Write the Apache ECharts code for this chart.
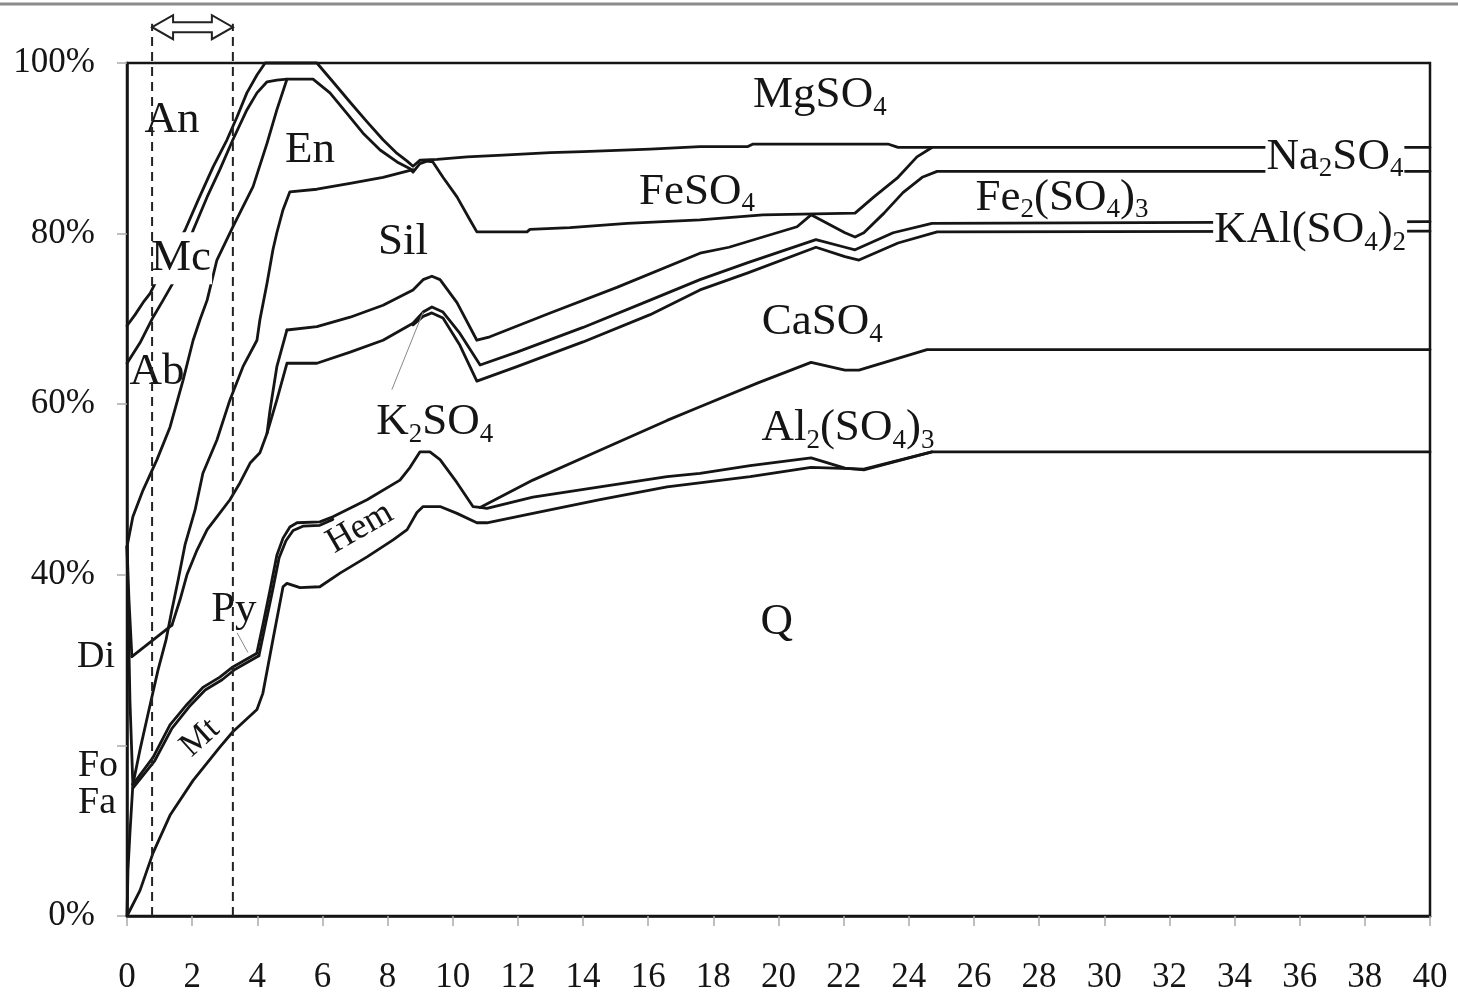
<!DOCTYPE html>
<html><head><meta charset="utf-8">
<script src="https://cdn.jsdelivr.net/npm/echarts@6/dist/echarts.min.js"></script>
<style>html,body{margin:0;padding:0;background:#fff}#c{width:1458px;height:998px}</style>
</head><body><div id="c"></div>
<script>
// ---------- tick labels ----------
const xTickValues = [0,2,4,6,8,10,12,14,16,18,20,22,24,26,28,30,32,34,36,38,40];
const yTickValues = [0,20,40,60,80,100];
const yTickLabels = ['0%','','40%','60%','80%','100%'];

// ---------- boundary curves (x, cumulative %) ----------
const lineAnOuter = [[0,69.2],[0.25,70.5],[0.49,71.9],[0.71,73.0],[0.92,74.6],[1.32,77.5],[1.78,80.4],[2.18,83.9],[2.64,87.8],[3.07,91.0],[3.38,93.7],[3.68,96.5],[3.99,98.6],[4.24,100],[5.83,100],[6.32,97.8],[6.85,95.4],[7.37,93.1],[7.86,91.0],[8.29,89.4],[8.60,88.5],[8.78,87.9],[8.99,88.6],[9.52,88.7],[10.44,89.0],[11.54,89.2],[12.99,89.5],[14.00,89.6],[16.06,89.9],[17.59,90.2],[19.06,90.2],[19.22,90.5],[23.36,90.5],[23.67,90.1],[40,90.1]];
const lineAnInner = [[0,64.8],[0.40,67.2],[0.80,70.2],[1.11,72.2],[1.47,74.6],[1.75,77.5],[2.03,80.4],[2.46,84.3],[2.85,87.5],[3.25,91.0],[3.68,94.5],[3.99,96.5],[4.30,97.8],[4.60,98.0],[4.91,98.1],[5.71,98.1],[6.23,96.5],[6.75,94.1],[7.24,91.8],[7.77,89.8],[8.29,88.4],[8.69,87.6],[8.78,87.2],[8.99,88.2],[9.21,88.5],[9.39,88.4],[9.70,86.6],[10.13,84.3],[10.53,81.6],[10.74,80.2],[12.28,80.2],[12.37,80.5],[13.60,80.7],[15.35,81.2],[17.59,81.6],[19.52,82.2],[22.35,82.4],[22.93,84.3],[23.67,86.6],[24.25,89.0],[24.71,90.1]];
const lineEnLeft = [[0,43.3],[0.18,46.8],[0.49,49.9],[0.92,53.5],[1.32,57.3],[1.72,62.8],[2.03,67.5],[2.24,69.9],[2.46,72.2],[2.76,76.9],[3.25,80.8],[3.87,85.5],[4.30,90.6],[4.60,94.5],[4.91,98.1]];
const lineSilTop = [[8.78,87.5],[7.86,86.6],[6.85,85.9],[5.83,85.2],[5.00,84.9],[4.79,82.8],[4.60,80.1],[4.48,78.1],[4.30,74.2],[4.08,69.9],[3.99,67.5],[3.56,64.4],[3.16,60.5],[2.76,55.8],[2.33,51.9],[2.09,47.6],[1.78,43.5],[1.57,39.4],[1.38,35.9],[1.20,32.4],[0.95,28.8],[0.64,23.6],[0.40,19.5],[0.18,15.4]];
const lineSilFoot = [[4.91,68.7],[4.60,64.4],[4.39,59.3],[4.30,56.6],[4.08,54.3],[3.78,53.1],[3.47,50.8],[3.16,48.8],[2.76,46.8],[2.46,45.3],[2.15,42.9],[1.84,40.0],[1.63,37.1],[1.38,34.1]];
const lineDiTop = [[0.15,30.4],[1.38,34.1]];
const lineDiLeft = [[0,43.3],[0.06,37.1],[0.15,30.4]];
const lineFoRight = [[0,43.3],[0.03,37.0],[0.09,25.3],[0.18,15.4]];
const lineFaRight = [[0.18,15.4],[0.09,9.7],[0.03,5.4],[0,0]];
const lineMtTop = [[0.18,15.4],[0.80,18.6],[1.32,22.4],[1.84,24.8],[2.33,26.8],[2.85,28.0],[3.25,29.2],[3.99,30.8]];
const lineMtTop2 = [[0.18,15.0],[0.85,18.2],[1.38,22.0],[1.90,24.5],[2.40,26.5],[2.92,27.7],[3.31,28.9],[4.05,30.5]];
const lineHemTop = [[3.99,30.9],[4.17,34.1],[4.39,38.2],[4.60,42.3],[4.79,44.3],[5.00,45.6],[5.22,46.1],[5.92,46.2],[6.32,46.8],[7.37,48.8],[8.38,51.1],[8.69,52.6],[8.99,54.4],[9.30,54.4],[9.61,53.5],[10.13,50.8],[10.62,48.0],[10.84,47.9]];
const lineHemTop2 = [[4.05,30.5],[4.24,34.0],[4.46,38.0],[4.67,42.0],[4.88,44.0],[5.10,45.2],[5.40,45.7],[5.92,45.8],[6.32,46.5]];
const lineCaLow = [[10.84,47.9],[12.46,51.1],[14.52,54.6],[16.58,58.1],[17.59,59.7],[19.37,62.5],[21.00,64.9],[22.04,64.0],[22.47,64.0],[24.56,66.4],[40,66.4]];
const lineAlUp = [[10.84,47.9],[11.05,47.8],[12.46,49.1],[14.52,50.3],[16.58,51.5],[17.59,51.9],[19.13,52.8],[21.00,53.7],[22.04,52.5],[22.62,52.3],[24.71,54.4],[40,54.4]];
const lineQTop = [[0,0],[0.40,3.0],[0.80,7.4],[1.32,11.8],[2.03,15.9],[2.85,19.8],[3.25,21.6],[3.99,24.2],[4.17,26.1],[4.48,32.4],[4.79,38.6],[4.91,39.0],[5.31,38.5],[5.92,38.6],[6.54,40.2],[7.37,42.1],[8.17,44.1],[8.60,45.3],[8.90,47.3],[9.09,48.0],[9.61,48.0],[10.13,47.2],[10.74,46.1],[11.05,46.1],[12.46,47.2],[14.52,48.8],[16.58,50.3],[19.13,51.5],[21.00,52.6],[22.62,52.4],[24.71,54.4]];
const lineT1 = [[4.91,68.7],[5.83,69.1],[6.85,70.2],[7.86,71.6],[8.78,73.4],[9.09,74.6],[9.36,75.0],[9.61,74.6],[10.13,71.9],[10.74,67.5],[11.14,67.9],[12.99,70.7],[15.04,73.7],[17.59,77.7],[18.48,78.4],[19.52,79.6],[20.57,80.8],[21.00,82.2],[22.04,80.1],[22.35,79.6],[22.62,80.1],[23.24,82.4],[23.82,84.8],[24.41,86.6],[24.87,87.3],[40,87.3]];
const lineT2 = [[4.30,56.6],[4.60,60.5],[4.91,64.8],[5.83,64.8],[6.85,66.1],[7.86,67.5],[8.78,69.5],[9.09,70.8],[9.36,71.4],[9.70,70.8],[10.22,68.3],[10.84,64.6],[11.97,66.1],[14.00,69.0],[16.06,72.2],[17.59,74.6],[19.06,76.6],[21.15,79.3],[22.04,78.4],[22.35,78.1],[23.52,80.1],[24.71,81.2],[40,81.4]];
const lineT3 = [[8.78,69.3],[9.09,70.3],[9.36,70.7],[9.70,70.1],[10.22,66.9],[10.74,62.7],[11.97,64.4],[14.00,67.3],[16.06,70.5],[17.59,73.4],[19.06,75.4],[21.15,78.4],[22.04,77.3],[22.47,76.9],[23.67,78.9],[24.87,80.2],[40,80.3]];
const leaderK = [[9.09,70.8],[8.13,61.7]];
const leaderPy = [[3.38,33.2],[3.71,30.9]];

// ---------- window markers ----------
const windowX = [0.77, 3.25];
const windowTop = 104.6;
const arrowY = 104.2;

// ---------- region labels ----------
const labelTexts = ['An','Mc','Ab','Di','Fo','Fa','En','Sil','Py','Mt','Hem','K{s|2}SO{s|4}','MgSO{s|4}','FeSO{s|4}','Fe{s|2}(SO{s|4}){s|3}','Na{s|2}SO{s|4}','KAl(SO{s|4}){s|2}','CaSO{s|4}','Al{s|2}(SO{s|4}){s|3}','Q'];
const labelAnchors = [[1.38,93.3],[1.66,77.1],[0.92,63.7],[-0.95,30.4],[-0.89,17.6],[-0.92,13.2],[5.62,89.8],[8.47,79.0],[3.28,35.9],[2.24,20.9],[7.15,45.5],[9.45,57.9],[21.27,96.2],[17.50,84.9],[28.70,84.2],[37.08,89.0],[36.32,80.4],[21.34,69.6],[22.13,57.2],[19.95,34.5]];

const FONT = 'Liberation Serif, Times New Roman, serif';
const INK = '#151515';
const labelStyle = {
  'Di': {fontSize: 38}, 'Fo': {fontSize: 38}, 'Fa': {fontSize: 38},
  'Py': {fontSize: 43},
  'Mt': {fontSize: 34, rotate: 42},
  'Hem': {fontSize: 36, rotate: 30},
  'Mc': {backgroundColor: '#fff'},
  'Na{s|2}SO{s|4}': {backgroundColor: '#fff'},
  'KAl(SO{s|4}){s|2}': {backgroundColor: '#fff'}
};

const boundaryLines = [lineAnOuter, lineAnInner, lineEnLeft, lineSilTop, lineSilFoot, lineDiTop, lineDiLeft, lineFoRight, lineFaRight, lineMtTop, lineMtTop2, lineHemTop, lineHemTop2, lineCaLow, lineAlUp, lineQTop, lineT1, lineT2, lineT3];

const series = [];
boundaryLines.forEach(d => series.push({
  type: 'line', data: d, symbol: 'none', showSymbol: false, clip: false, silent: true, z: 3,
  lineStyle: {color: INK, width: 2.8, join: 'round', cap: 'round'}
}));
[leaderK, leaderPy].forEach(d => series.push({
  type: 'line', data: d, symbol: 'none', clip: false, silent: true, z: 3,
  lineStyle: {color: '#888', width: 1}
}));
windowX.forEach(x => series.push({
  type: 'line', data: [[x, 0], [x, windowTop]], symbol: 'none', clip: false, silent: true, z: 8,
  lineStyle: {color: '#222', width: 2, type: [9, 6]}
}));
series.push({
  type: 'custom', clip: false, silent: true, z: 8,
  data: [[windowX[0], arrowY]],
  renderItem: function (params, api) {
    const a = api.coord([windowX[0], arrowY]);
    const b = api.coord([windowX[1], arrowY]);
    const hl = 21, hh = 12, sh = 5;
    const pts = [[a[0], a[1]], [a[0] + hl, a[1] - hh], [a[0] + hl, a[1] - sh], [b[0] - hl, b[1] - sh], [b[0] - hl, b[1] - hh], [b[0], b[1]],
      [b[0] - hl, b[1] + hh], [b[0] - hl, b[1] + sh], [a[0] + hl, a[1] + sh], [a[0] + hl, a[1] + hh]];
    return {type: 'polygon', shape: {points: pts}, style: {fill: '#fff', stroke: '#222', lineWidth: 2}};
  }
});
series.push({
  type: 'scatter', symbolSize: 0, clip: false, silent: true, z: 5,
  itemStyle: {opacity: 1},
  emphasis: {disabled: true},
  data: labelTexts.map((t, i) => {
    const st = labelStyle[t] || {};
    const fs = st.fontSize || 45;
    return {
      value: labelAnchors[i],
      itemStyle: {opacity: 1},
      label: {
        show: true, position: 'inside', formatter: t, color: INK, opacity: 1,
        textBorderWidth: 0, textBorderColor: 'transparent', textShadowBlur: 0,
        fontFamily: FONT, fontSize: fs, lineHeight: Math.round(fs * 1.16),
        rotate: st.rotate || 0,
        backgroundColor: st.backgroundColor || 'transparent',
        padding: st.backgroundColor ? [0, 1] : 0,
        rich: {s: {fontFamily: FONT, fontSize: Math.round(fs * 0.6), lineHeight: Math.round(fs * 0.6), verticalAlign: 'bottom', color: INK, textBorderWidth: 0}}
      }
    };
  })
});

const chart = echarts.init(document.getElementById('c'), null, {renderer: 'canvas'});
chart.setOption({
  animation: false,
  backgroundColor: '#fff',
  grid: {left: 127, right: 28, top: 63, bottom: 82, show: true, borderColor: INK, borderWidth: 2.5, backgroundColor: 'transparent'},
  graphic: [{type: 'line', shape: {x1: 0, y1: 4, x2: 1458, y2: 4}, style: {stroke: '#8c8c8c', lineWidth: 3}, z: 1}],
  xAxis: {
    type: 'value', min: 0, max: 40, interval: 2,
    axisLine: {show: true, lineStyle: {color: INK, width: 2.5}},
    axisTick: {show: true, length: 10, lineStyle: {color: '#aaa', width: 1.5}},
    splitLine: {show: false},
    axisLabel: {color: INK, fontFamily: FONT, fontSize: 35, margin: 44,
      formatter: v => xTickValues.indexOf(v) >= 0 ? String(v) : ''}
  },
  yAxis: {
    type: 'value', min: 0, max: 100, interval: 20,
    axisLine: {show: true, lineStyle: {color: INK, width: 2.5}},
    axisTick: {show: true, length: 10, lineStyle: {color: '#aaa', width: 1.5}},
    splitLine: {show: false},
    axisLabel: {color: INK, fontFamily: FONT, fontSize: 35, margin: 32,
      formatter: v => { const i = yTickValues.indexOf(v); return i >= 0 ? yTickLabels[i] : ''; }}
  },
  series: series
});
</script></body></html>
